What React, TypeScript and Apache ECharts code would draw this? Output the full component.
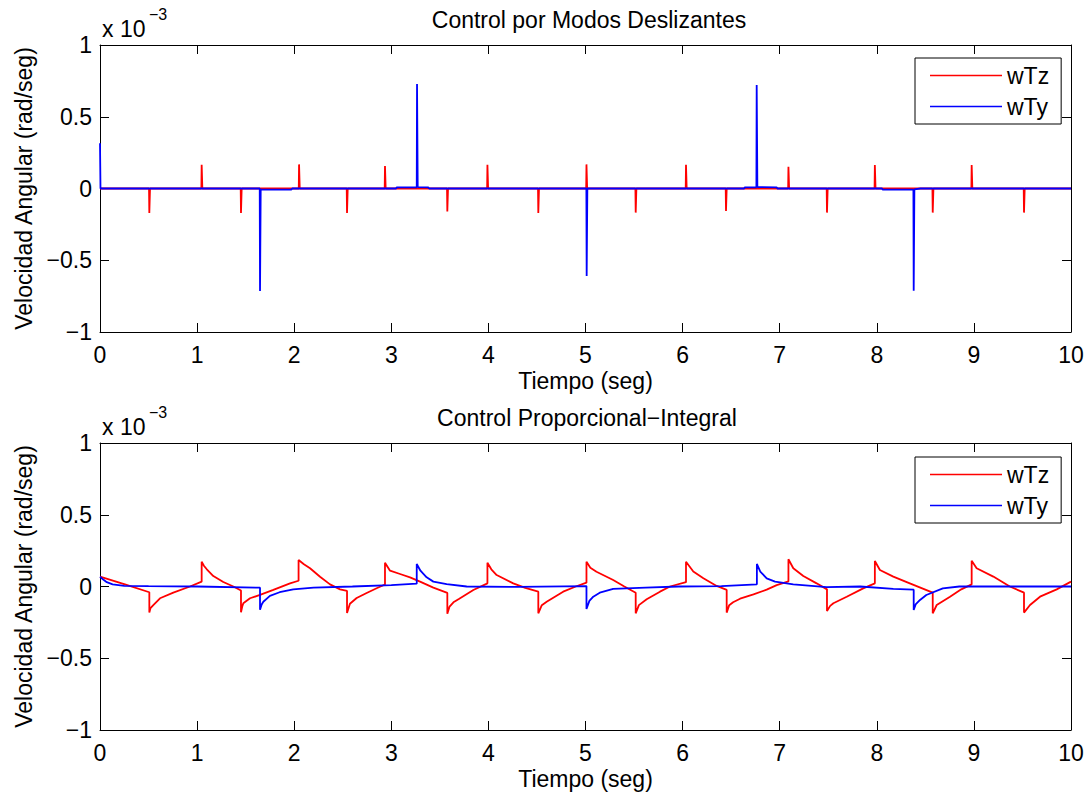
import React, { useEffect, useRef } from "react";
import * as echarts from "echarts";

const FONT = "Liberation Sans, Arial, Helvetica, sans-serif";

const xTicks = [0, 1, 2, 3, 4, 5, 6, 7, 8, 9, 10];
const yTicks = [-1, -0.5, 0, 0.5, 1];
const seriesNames = ["wTz", "wTy"];
const titles = ["Control por Modos Deslizantes", "Control Proporcional\u2212Integral"];
const xLabel = "Tiempo (seg)";
const yLabel = "Velocidad Angular (rad/seg)";
const scaleLabel = "x 10";
const scaleExp = "\u22123";

// values in units of 1e-3 rad/seg
const smcWTz: number[][] = [
  [0, 0],
  [0.505, 0], [0.508, -0.17], [0.515, 0],
  [1.044, 0], [1.047, 0.165], [1.054, 0],
  [1.449, 0], [1.452, -0.17], [1.459, 0],
  [2.047, 0], [2.05, 0.168], [2.057, 0],
  [2.541, 0], [2.544, -0.17], [2.551, 0],
  [2.932, 0], [2.935, 0.157], [2.942, 0],
  [3.574, 0], [3.577, -0.16], [3.584, 0],
  [3.987, 0], [3.99, 0.165], [3.997, 0],
  [4.511, 0], [4.514, -0.17], [4.521, 0],
  [5.007, 0], [5.01, 0.168], [5.017, 0],
  [5.514, 0], [5.517, -0.168], [5.524, 0],
  [6.032, 0], [6.035, 0.165], [6.042, 0],
  [6.444, 0], [6.447, -0.157], [6.454, 0],
  [7.087, 0], [7.09, 0.152], [7.097, 0],
  [7.484, 0], [7.487, -0.168], [7.494, 0],
  [7.977, 0], [7.98, 0.164], [7.987, 0],
  [8.573, 0], [8.576, -0.168], [8.583, 0],
  [8.974, 0], [8.977, 0.164], [8.984, 0],
  [9.513, 0], [9.516, -0.168], [9.523, 0],
  [10, 0],
];

const smcWTy: number[][] = [
  [0, 0.315], [0.005, 0],
  [1.645, 0], [1.648, -0.714], [1.655, -0.008], [1.97, -0.008], [1.98, 0],
  [3.05, 0], [3.055, 0.008], [3.262, 0.008], [3.265, 0.728], [3.272, 0.01], [3.38, 0.008], [3.39, 0],
  [5.009, 0], [5.012, -0.61], [5.019, 0],
  [6.635, 0], [6.64, 0.008], [6.76, 0.008], [6.763, 0.721], [6.77, 0.01], [6.97, 0.008], [6.975, 0],
  [8.055, 0], [8.06, -0.008], [8.377, -0.008], [8.38, -0.712], [8.387, -0.006], [8.45, 0],
  [10, 0],
];

const piWTz: number[][] = [
  [0, 0.069], [0.257, 0.015], [0.508, -0.04],
  [0.508, -0.182], [0.52, -0.15], [0.549, -0.129], [0.618, -0.082], [0.755, -0.043], [0.927, 0.0], [1.047, 0.034],
  [1.047, 0.173], [1.07, 0.145], [1.1, 0.12], [1.167, 0.073], [1.27, 0.031], [1.373, 0.0], [1.452, -0.028],
  [1.452, -0.18], [1.465, -0.14], [1.476, -0.117], [1.545, -0.082], [1.648, -0.059], [1.785, -0.024], [1.957, 0.022], [2.045, 0.04],
  [2.045, 0.185], [2.1, 0.155], [2.163, 0.127], [2.266, 0.068], [2.369, 0.015], [2.472, -0.02], [2.544, -0.031],
  [2.544, -0.185], [2.574, -0.12], [2.643, -0.08], [2.746, -0.045], [2.849, -0.012], [2.935, 0.014],
  [2.935, 0.166], [2.987, 0.11], [3.09, 0.087], [3.193, 0.064], [3.296, 0.034], [3.433, -0.008], [3.577, -0.045],
  [3.577, -0.19], [3.6, -0.14], [3.64, -0.11], [3.7, -0.085], [3.845, -0.024], [3.99, 0.022],
  [3.99, 0.166], [4.03, 0.12], [4.085, 0.08], [4.256, 0.022], [4.38, -0.01], [4.514, -0.036],
  [4.514, -0.187], [4.55, -0.13], [4.6, -0.106], [4.77, -0.036], [4.9, 0.0], [5.01, 0.027],
  [5.01, 0.173], [5.05, 0.13], [5.113, 0.103], [5.285, 0.045], [5.4, 0.0], [5.517, -0.043],
  [5.517, -0.187], [5.55, -0.13], [5.63, -0.089], [5.767, -0.036], [5.87, 0.0], [6.035, 0.03],
  [6.035, 0.173], [6.11, 0.104], [6.214, 0.057], [6.351, 0.004], [6.454, -0.024],
  [6.454, -0.182], [6.48, -0.13], [6.52, -0.11], [6.592, -0.085], [6.73, -0.055], [6.866, -0.022], [6.969, 0.01], [7.09, 0.035],
  [7.09, 0.19], [7.14, 0.127], [7.243, 0.073], [7.38, 0.022], [7.487, -0.02],
  [7.487, -0.171], [7.52, -0.135], [7.553, -0.117], [7.69, -0.071], [7.86, -0.013], [7.98, 0.022],
  [7.98, 0.178], [8.032, 0.115], [8.17, 0.069], [8.34, 0.022], [8.576, -0.043],
  [8.576, -0.187], [8.617, -0.129], [8.754, -0.071], [8.87, -0.02], [8.977, 0.015],
  [8.977, 0.18], [9.028, 0.127], [9.2, 0.069], [9.37, 0.0], [9.516, -0.043],
  [9.516, -0.182], [9.578, -0.129], [9.681, -0.071], [9.853, -0.02], [10, 0.034],
];

const piWTy: number[][] = [
  [0, 0.069], [0.03, 0.05], [0.07, 0.03], [0.13, 0.015], [0.25, 0.005], [0.5, 0.002], [1.0, 0.0], [1.648, -0.008],
  [1.648, -0.162], [1.665, -0.125], [1.682, -0.106], [1.75, -0.065], [1.85, -0.04], [1.99, -0.02], [2.2, -0.008], [2.6, 0.0], [3.0, 0.01], [3.262, 0.02],
  [3.262, 0.157], [3.3, 0.11], [3.364, 0.064], [3.433, 0.034], [3.57, 0.017], [3.776, 0.0], [4.3, -0.003], [5.01, 0.003],
  [5.01, -0.157], [5.04, -0.1], [5.08, -0.071], [5.147, -0.043], [5.285, -0.017], [5.62, -0.008], [5.96, 0.0], [6.4, 0.003], [6.765, 0.015],
  [6.765, 0.157], [6.8, 0.104], [6.866, 0.057], [6.952, 0.034], [7.14, 0.015], [7.484, -0.005], [7.83, 0.0], [8.17, -0.017], [8.38, -0.022],
  [8.38, -0.164], [8.4, -0.125], [8.445, -0.094], [8.51, -0.059], [8.68, -0.013], [8.85, 0.0], [10, 0.0],
];

const RED = "#ff0000";
const BLUE = "#0000ff";

export default function App() {
  const ref = useRef<HTMLDivElement>(null);

  useEffect(() => {
    if (!ref.current) return;
    const chart = echarts.init(ref.current, null, { renderer: "svg" });

    const grids = [
      { left: 100, top: 45, width: 971, height: 287 },
      { left: 100, top: 443, width: 971, height: 287 },
    ];
    const txt = { fontFamily: FONT, fontSize: 23, color: "#000" };
    const fmtY = (v: number) => String(v).replace("-", "\u2212");

    const xMain = grids.map((_, i) => ({
      type: "value",
      gridIndex: i,
      position: "bottom",
      min: xTicks[0],
      max: xTicks[xTicks.length - 1],
      interval: 1,
      name: xLabel,
      nameLocation: "middle",
      nameGap: 37,
      nameTextStyle: txt,
      axisLine: { show: true, onZero: false, lineStyle: { color: "#000", width: 1 } },
      axisTick: { show: true, inside: true, length: 9, lineStyle: { color: "#000" } },
      axisLabel: { ...txt, margin: 11 },
      splitLine: { show: false },
    }));
    const xTop = grids.map((_, i) => ({
      type: "value",
      gridIndex: i,
      position: "top",
      min: xTicks[0],
      max: xTicks[xTicks.length - 1],
      interval: 1,
      axisLine: { show: true, onZero: false, lineStyle: { color: "#000", width: 1 } },
      axisTick: { show: true, inside: true, length: 9, lineStyle: { color: "#000" } },
      axisLabel: { show: false },
      splitLine: { show: false },
    }));
    const yMain = grids.map((_, i) => ({
      type: "value",
      gridIndex: i,
      position: "left",
      min: yTicks[0],
      max: yTicks[yTicks.length - 1],
      interval: 0.5,
      name: yLabel,
      nameLocation: "middle",
      nameGap: 61,
      nameTextStyle: txt,
      axisLine: { show: true, onZero: false, lineStyle: { color: "#000", width: 1 } },
      axisTick: { show: true, inside: true, length: 9, lineStyle: { color: "#000" } },
      axisLabel: { ...txt, margin: 8, formatter: fmtY },
      splitLine: { show: false },
    }));
    const yRight = grids.map((_, i) => ({
      type: "value",
      gridIndex: i,
      position: "right",
      min: yTicks[0],
      max: yTicks[yTicks.length - 1],
      interval: 0.5,
      axisLine: { show: true, onZero: false, lineStyle: { color: "#000", width: 1 } },
      axisTick: { show: true, inside: true, length: 9, lineStyle: { color: "#000" } },
      axisLabel: { show: false },
      splitLine: { show: false },
    }));

    const mkSeries = (name: string, data: number[][], idx: number, color: string) => ({
      type: "line",
      name,
      data,
      xAxisIndex: idx,
      yAxisIndex: idx,
      showSymbol: false,
      symbol: "none",
      lineStyle: { color, width: 1.8 },
      itemStyle: { color },
      color,
      clip: true,
    });

    const mkLegend = (top: number) => ({
      data: seriesNames,
      left: 915,
      top,
      orient: "vertical",
      icon: "rect",
      itemWidth: 72,
      itemHeight: 1.5,
      itemGap: 8,
      padding: [6, 12, 6, 15],
      borderColor: "#000",
      borderWidth: 1,
      backgroundColor: "#fff",
      selectedMode: false,
      textStyle: txt,
    });

    const mkText = (text: string, x: number, y: number, size: number, align = "left") => ({
      type: "text",
      x,
      y,
      z: 10,
      style: {
        text,
        fontFamily: FONT,
        fontSize: size,
        fill: "#000",
        align,
        verticalAlign: "middle",
      },
    });

    chart.setOption({
      animation: false,
      backgroundColor: "#fff",
      grid: grids,
      xAxis: [...xMain, ...xTop],
      yAxis: [...yMain, ...yRight],
      legend: [mkLegend(58), mkLegend(457)],
      series: [
        mkSeries(seriesNames[0], smcWTz, 0, RED),
        mkSeries(seriesNames[1], smcWTy, 0, BLUE),
        mkSeries(seriesNames[0], piWTz, 1, RED),
        mkSeries(seriesNames[1], piWTy, 1, BLUE),
      ],
      graphic: [
        mkText(titles[0], 589, 20, 23, "center"),
        mkText(titles[1], 587, 418, 23, "center"),
        mkText(scaleLabel, 102, 29, 23),
        mkText(scaleExp, 149, 14, 16),
        mkText(scaleLabel, 102, 427, 23),
        mkText(scaleExp, 149, 412, 16),
      ],
    });

    return () => chart.dispose();
  }, []);

  return (
    <div
      ref={ref}
      style={{ position: "fixed", left: 0, top: 0, width: 1091, height: 795, background: "#fff" }}
    />
  );
}
